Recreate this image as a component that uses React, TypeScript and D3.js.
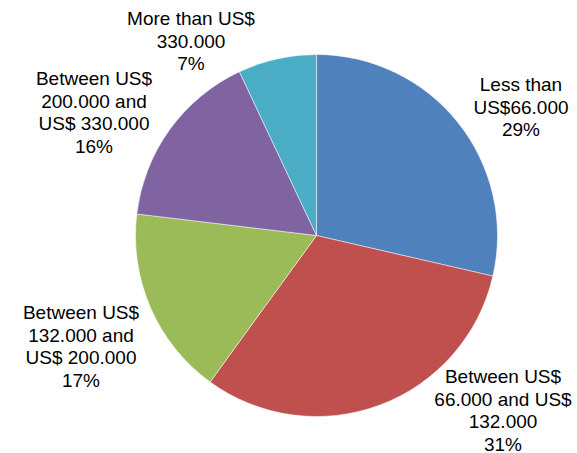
import React from "react";
import * as d3 from "d3";

const categories: string[][] = [
  ["Less than", "US$66.000"],
  ["Between US$", "66.000 and US$", "132.000"],
  ["Between US$", "132.000 and", "US$ 200.000"],
  ["Between US$", "200.000 and", "US$ 330.000"],
  ["More than US$", "330.000"],
];
const values: number[] = [28.6, 31.4, 16.9, 16.1, 7.0];
const colors: string[] = ["#4F81BD", "#C0504D", "#9BBB59", "#8064A2", "#4BACC6"];

// label anchor (center x, first baseline y) — layout only
const labelPos: [number, number][] = [
  [521, 91],
  [503, 383],
  [81, 319],
  [94, 85],
  [191, 25],
];

const W = 577;
const H = 453;
const cx = 316.5;
const cy = 235.5;
const R = 181;
const LINE = 22.5;

export default function App() {
  const pie = d3.pie<number>().sort(null).value((d) => d)(values);
  const arc = d3.arc<d3.PieArcDatum<number>>().innerRadius(0).outerRadius(R);
  const total = d3.sum(values);
  return (
    <div style={{ position: "absolute", left: 0, top: 0 }}>
      <svg width={W} height={H} style={{ display: "block", background: "#fff" }}>
        <g transform={`translate(${cx},${cy})`}>
          {pie.map((p, i) => (
            <path key={i} d={arc(p) || ""} fill={colors[i]} stroke="#ffffff" strokeWidth={0.5} />
          ))}
        </g>
        {categories.map((lines, i) => {
          const all = [...lines, `${Math.round((values[i] / total) * 100)}%`];
          const [x, y] = labelPos[i];
          return (
            <text
              key={i}
              x={x}
              y={y}
              textAnchor="middle"
              fontFamily="'Liberation Sans', Arial, sans-serif"
              fontSize={19}
              fill="#000"
            >
              {all.map((t, j) => (
                <tspan key={j} x={x} y={y + j * LINE}>
                  {t}
                </tspan>
              ))}
            </text>
          );
        })}
      </svg>
    </div>
  );
}
